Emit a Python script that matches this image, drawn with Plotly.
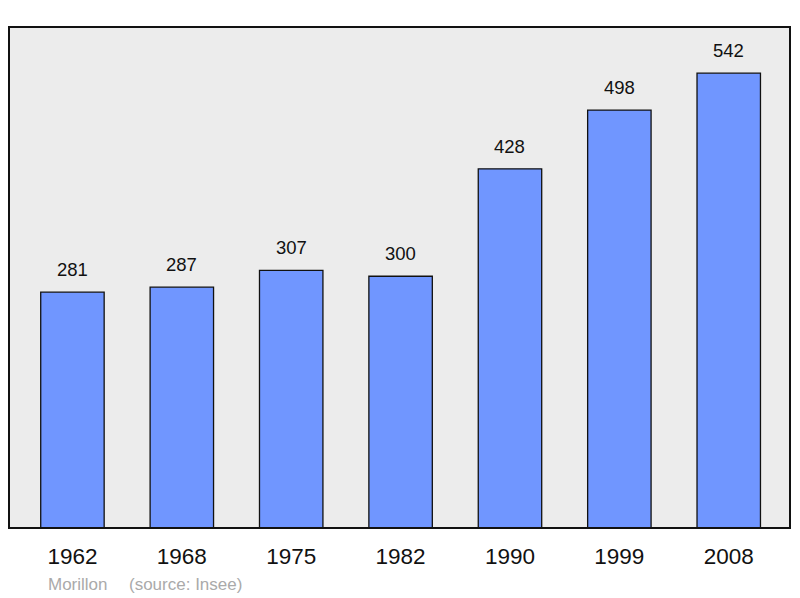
import plotly.graph_objects as go

years = ["1962", "1968", "1975", "1982", "1990", "1999", "2008"]
population = [281, 287, 307, 300, 428, 498, 542]

x_idx = list(range(len(years)))
FONT = "Liberation Sans, Arial"

fig = go.Figure()
fig.add_trace(go.Bar(
    x=x_idx, y=population, width=0.58,
    marker=dict(color="#7096ff", line=dict(color="#111111", width=1.3)),
    hoverinfo="skip",
))

for i, v in zip(x_idx, population):
    fig.add_annotation(x=i, y=v, text=str(v), showarrow=False, yanchor="bottom",
                       yshift=10, font=dict(size=18.5, color="#111111", family=FONT))

fig.add_annotation(xref="paper", yref="paper", x=0.0477, y=-0.113, xanchor="left", yanchor="middle",
                   text="Morillon", showarrow=False, font=dict(size=17, color="#aaaaaa", family=FONT))
fig.add_annotation(xref="paper", yref="paper", x=0.1515, y=-0.113, xanchor="left", yanchor="middle",
                   text="(source: Insee)", showarrow=False, font=dict(size=17, color="#aaaaaa", family=FONT))

fig.add_shape(type="rect", xref="paper", yref="paper", x0=0, y0=0, x1=1, y1=1,
              line=dict(color="#111111", width=2), layer="above")

fig.update_layout(
    width=792, height=590,
    margin=dict(l=1, r=10, t=19, b=70),
    paper_bgcolor="white", plot_bgcolor="#ececec",
    showlegend=False,
    font=dict(family=FONT, color="#111111"),
    xaxis=dict(range=[-0.58, 6.56], tickvals=x_idx, ticktext=years, showgrid=False, zeroline=False,
               ticks="", tickfont=dict(size=22.5, color="#111111"), ticklabelstandoff=12, fixedrange=True),
    yaxis=dict(range=[0, 597], showgrid=False, zeroline=False, showticklabels=False, ticks="", fixedrange=True),
)

fig.write_html("out.html")
